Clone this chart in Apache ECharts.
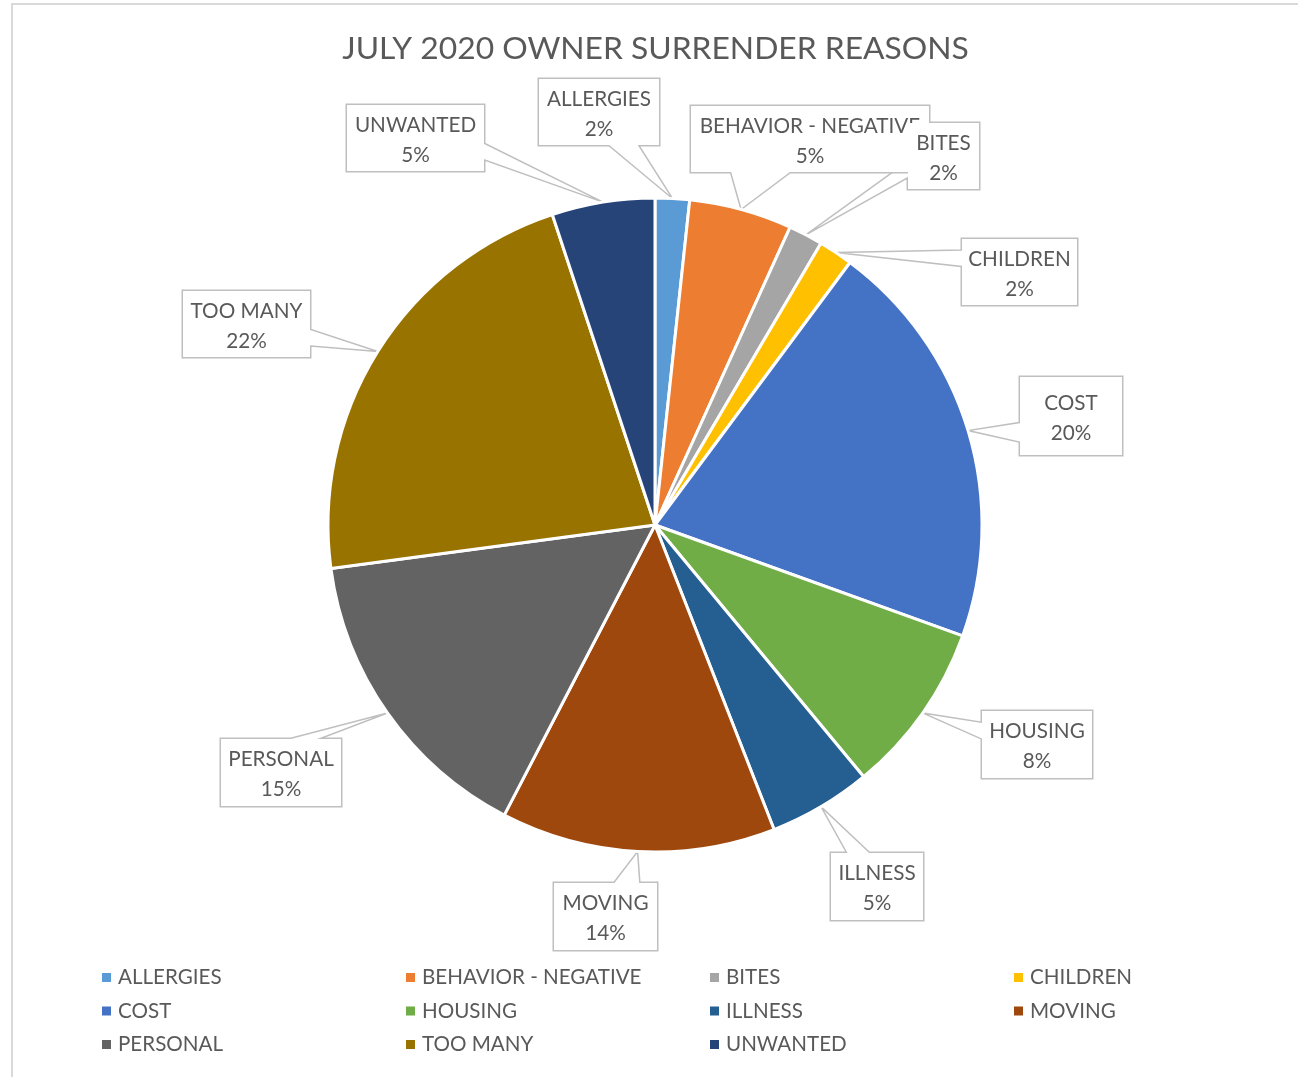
<!DOCTYPE html>
<html><head><meta charset="utf-8">
<script src="https://cdn.jsdelivr.net/npm/echarts@6/dist/echarts.min.js"></script>
<style>
html,body{margin:0;padding:0;background:#fff;overflow:hidden}
#frame{position:absolute;left:11px;top:3px;width:1400px;height:1200px;border-left:2px solid #D9D9D9;border-top:2px solid #D9D9D9;box-sizing:border-box}
#main{position:absolute;left:0;top:0;width:1298px;height:1077px}
</style></head><body>
<div id="frame"></div><div id="main"></div>
<script>
const titleText = 'JULY 2020 OWNER SURRENDER REASONS';
const categories = ['ALLERGIES','BEHAVIOR - NEGATIVE','BITES','CHILDREN','COST','HOUSING','ILLNESS','MOVING','PERSONAL','TOO MANY','UNWANTED'];
const counts = [1, 3, 1, 1, 12, 5, 3, 8, 9, 13, 3];
const colors = ['#5B9BD5','#ED7D31','#A5A5A5','#FFC000','#4472C4','#70AD47','#255E91','#9E480E','#636363','#997300','#264478'];

// callout box layout per slice: [centerX, top, width, height]
const calloutBoxes = [
  [599, 79, 120, 66],
  [810, 106, 238, 66],
  [943.5, 123, 71, 66],
  [1019.5, 239, 115, 66],
  [1071, 377, 102, 78],
  [1037, 711, 110, 67],
  [877, 853, 92, 67],
  [605.5, 883, 103, 67],
  [281, 739, 120, 67],
  [246.5, 291, 127, 66],
  [415.5, 105, 137, 66]
];

const FONT = 'Lato';
const TEXT = '#595959';
const CX = 655, CY = 525, R = 327;
const total = counts.reduce((a, b) => a + b, 0);

function tipPoint(i) {
  let cum = 0;
  for (let k = 0; k < i; k++) cum += counts[k];
  const ang = (cum + counts[i] / 2) / total * 2 * Math.PI; // clockwise from top
  return [CX + R * Math.sin(ang), CY - R * Math.cos(ang)];
}

function calloutOutline(L, T, Rr, B, tip) {
  const w = Rr - L, h = B - T, mx = (L + Rr) / 2, my = (T + B) / 2;
  const dx = tip[0] - mx, dy = tip[1] - my;
  const o = 0.75;
  const l = L - o, t = T - o, r = Rr + o, b = B + o;
  let pts;
  if (Math.abs(dx) / w > Math.abs(dy) / h) {
    const y1 = T + h * (dy < 0 ? 2 / 12 : 7 / 12), y2 = T + h * (dy < 0 ? 5 / 12 : 10 / 12);
    if (dx > 0) pts = [[l, t], [r, t], [r, y1], tip, [r, y2], [r, b], [l, b], [l, t]];
    else pts = [[l, t], [r, t], [r, b], [l, b], [l, y2], tip, [l, y1], [l, t]];
  } else {
    const x1 = L + w * (dx < 0 ? 2 / 12 : 7 / 12), x2 = L + w * (dx < 0 ? 5 / 12 : 10 / 12);
    if (dy > 0) pts = [[l, t], [r, t], [r, b], [x2, b], tip, [x1, b], [l, b], [l, t]];
    else pts = [[l, t], [x1, t], tip, [x2, t], [r, t], [r, b], [l, b], [l, t]];
  }
  pts.push(pts[1]);
  return pts;
}

const seriesData = categories.map((name, i) => ({
  name: name,
  value: counts[i],
  itemStyle: { color: colors[i] },
  label: {
    width: calloutBoxes[i][2],
    padding: [(calloutBoxes[i][3] - 60) / 2 + 2, 0, (calloutBoxes[i][3] - 60) / 2 - 2, 0]
  }
}));

const chart = echarts.init(document.getElementById('main'), null, { renderer: 'canvas' });
chart.setOption({
  animation: false,
  backgroundColor: 'transparent',
  title: {
    text: titleText,
    left: 655.5,
    textAlign: 'center',
    top: 33,
    padding: 0,
    textStyle: { color: TEXT, fontFamily: FONT, fontSize: 31.8, fontWeight: 'normal' }
  },
  legend: {
    data: categories,
    left: 102,
    top: 965.5,
    width: 1220,
    padding: 0,
    orient: 'horizontal',
    icon: 'rect',
    itemWidth: 9,
    itemHeight: 9,
    itemGap: 9.5,
    itemStyle: { borderWidth: 0 },
    selectedMode: false,
    textStyle: { color: TEXT, fontFamily: FONT, fontSize: 20.6, lineHeight: 24, width: 278.5, padding: [0, 0, 0, 2] }
  },
  series: [{
    type: 'pie',
    center: [CX, CY],
    radius: R,
    startAngle: 90,
    clockwise: true,
    avoidLabelOverlap: false,
    emphasis: { disabled: true },
    itemStyle: { borderColor: '#ffffff', borderWidth: 3 },
    label: {
      show: true,
      position: 'outside',
      formatter: p => p.name + '\n' + Math.round(p.percent) + '%',
      color: TEXT,
      fontFamily: FONT,
      fontSize: 20.7,
      lineHeight: 30,
      align: 'center',
      backgroundColor: '#ffffff',
      overflow: 'none'
    },
    labelLine: {
      show: true,
      length: 10,
      length2: 10,
      smooth: false,
      lineStyle: { color: '#BFBFBF', width: 1.5 }
    },
    labelLayout: function (params) {
      const i = params.dataIndex;
      const bx = calloutBoxes[i];
      const L = bx[0] - bx[2] / 2, T = bx[1];
      return {
        x: bx[0],
        y: bx[1],
        align: 'center',
        verticalAlign: 'top',
        labelLinePoints: calloutOutline(L, T, L + bx[2], T + bx[3], tipPoint(i))
      };
    },
    data: seriesData
  }]
});
</script>
</body></html>
